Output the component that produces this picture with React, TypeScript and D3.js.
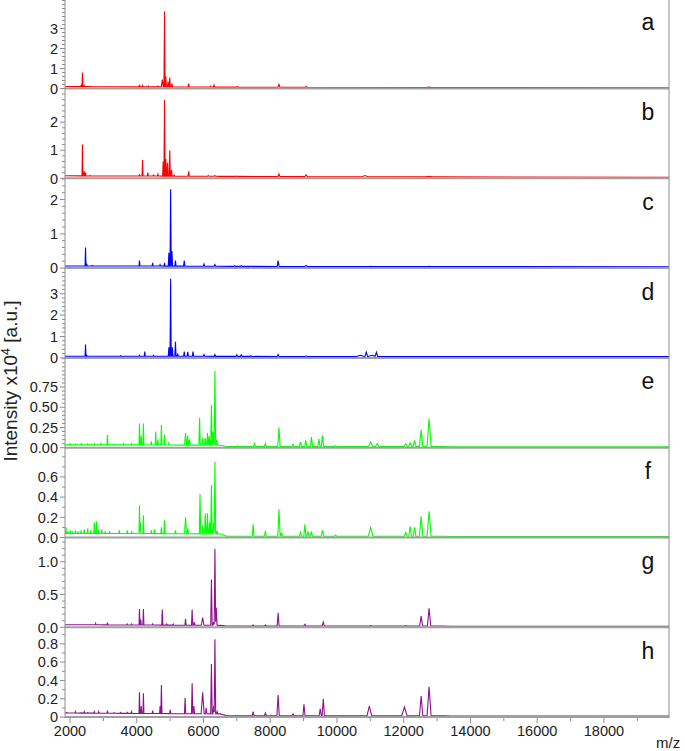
import React from 'react';
import * as d3 from 'd3';

// ---- data (m/z, intensity x10^4 [a.u.], optional half width) ----
type Peak = [number, number, number?];
type Pt = [number, number];

const xMajorTicks = [2000, 4000, 6000, 8000, 10000, 12000, 14000, 16000, 18000];
const xMinorTicks = [3000, 5000, 7000, 9000, 11000, 13000, 15000, 17000, 19000];

const baseA: Pt[] = [[1850, 0.1], [3000, 0.09], [4500, 0.08], [6500, 0.07], [9000, 0.06], [13000, 0.05], [19950, 0.04]];
const peaksA: Peak[] = [
  [2334, 0.15], [2373, 0.8], [2426, 0.15], [2597, 0.1], [4082, 0.2], [4174, 0.15], [4345, 0.12],
  [4503, 0.1], [4634, 0.12], [4766, 0.45, 30], [4832, 3.85], [4871, 0.6], [4937, 0.35], [4989, 0.55],
  [5055, 0.25], [5555, 0.25], [6212, 0.12], [6317, 0.18], [7027, 0.1], [8262, 0.2], [9077, 0.09, 40],
  [12760, 0.07, 60],
];

const baseB: Pt[] = [[1850, 0.09], [3000, 0.08], [4500, 0.08], [6500, 0.07], [9000, 0.06], [13000, 0.05], [19950, 0.04]];
const peaksB: Peak[] = [
  [2373, 1.2], [2426, 0.25], [2465, 0.2], [2597, 0.1], [4082, 0.12], [4174, 0.65], [4332, 0.2],
  [4503, 0.12], [4634, 0.15], [4792, 0.6], [4832, 2.8], [4871, 0.7], [4923, 0.55], [4989, 1.0],
  [5042, 0.3], [5121, 0.12], [5555, 0.25], [6146, 0.1], [6343, 0.1], [7000, 0.08], [8262, 0.15],
  [9077, 0.12, 40], [10839, 0.1, 90], [12760, 0.07, 90],
];

const baseC: Pt[] = [[1850, 0.06], [4500, 0.06], [7000, 0.05], [12000, 0.045], [19950, 0.04]];
const peaksC: Peak[] = [
  [2465, 0.6], [2505, 0.1], [2662, 0.08], [4082, 0.22], [4476, 0.15], [4700, 0.1], [4832, 0.15],
  [4963, 0.45], [5015, 2.3], [5055, 0.5], [5160, 0.22], [5423, 0.22], [6014, 0.12], [6343, 0.1],
  [6935, 0.07], [7132, 0.07], [7421, 0.06], [8236, 0.22], [9077, 0.08, 40], [11010, 0.05, 40],
  [12760, 0.05, 40],
];

const baseD: Pt[] = [[1850, 0.08], [4500, 0.08], [7000, 0.07], [12000, 0.06], [19950, 0.06]];
const peaksD: Peak[] = [
  [2465, 0.62], [2505, 0.12], [3517, 0.1], [4082, 0.12], [4240, 0.3], [4503, 0.12], [4963, 0.5],
  [5015, 3.7], [5068, 0.5], [5160, 0.75], [5226, 0.2], [5423, 0.3], [5528, 0.28], [5686, 0.3],
  [6014, 0.15], [6343, 0.15], [7000, 0.15], [7132, 0.15], [7421, 0.1], [8236, 0.16], [9077, 0.09, 40],
  [10700, 0.12, 120], [10878, 0.27, 40], [11181, 0.26, 40], [11050, 0.12, 120],
];

const baseE: Pt[] = [[1850, 0.035], [4000, 0.035], [6500, 0.03], [6700, 0.015], [13200, 0.015], [13400, 0.012], [19950, 0.012]];
const peaksE: Peak[] = [
  [2005, 0.05], [2163, 0.045], [2334, 0.05], [2528, 0.045], [2728, 0.05], [2925, 0.06], [3123, 0.16],
  [3320, 0.045], [3609, 0.05], [3846, 0.05], [4082, 0.3], [4135, 0.15], [4200, 0.3], [4437, 0.08],
  [4568, 0.2], [4634, 0.1], [4739, 0.28], [4832, 0.16], [4963, 0.06], [5462, 0.18, 30], [5528, 0.15],
  [5581, 0.1], [5883, 0.37], [5975, 0.12], [6054, 0.12], [6120, 0.18], [6172, 0.14], [6238, 0.53],
  [6291, 0.2], [6343, 0.95], [6396, 0.1], [7027, 0.025], [7526, 0.05], [7855, 0.05], [8262, 0.25, 35],
  [8683, 0.045], [8906, 0.07], [9064, 0.09], [9235, 0.13, 35], [9459, 0.11], [9564, 0.15, 35],
  [9958, 0.025], [11010, 0.07, 60], [11207, 0.05, 50], [12061, 0.05], [12193, 0.06], [12325, 0.09],
  [12523, 0.22, 50], [12760, 0.36, 60],
];

const baseF: Pt[] = [[1850, 0.04], [4000, 0.04], [6500, 0.035], [6700, 0.012], [13200, 0.012], [13400, 0.01], [19950, 0.01]];
const peaksF: Peak[] = [
  [1880, 0.1], [1939, 0.06], [2005, 0.07], [2071, 0.06], [2163, 0.07], [2242, 0.06], [2334, 0.07],
  [2426, 0.08], [2531, 0.09], [2623, 0.07], [2728, 0.15], [2794, 0.16], [2860, 0.08], [2952, 0.08],
  [3057, 0.06], [3188, 0.06], [3477, 0.07], [3714, 0.07], [3846, 0.06], [4082, 0.32], [4108, 0.15],
  [4200, 0.22], [4437, 0.07], [4529, 0.08], [4739, 0.1], [4832, 0.17], [5160, 0.07], [5462, 0.2, 30],
  [5528, 0.09], [5896, 0.43], [5975, 0.12], [6054, 0.24], [6120, 0.24], [6185, 0.15], [6238, 0.52],
  [6304, 0.15], [6343, 0.75], [6409, 0.06], [7487, 0.13], [7855, 0.065], [8262, 0.28, 35], [8341, 0.05],
  [8906, 0.05], [9038, 0.13], [9130, 0.06], [9235, 0.06], [9564, 0.07, 40], [9958, 0.025],
  [11010, 0.1, 70], [12061, 0.05], [12193, 0.11, 40], [12325, 0.1, 40], [12523, 0.21, 50], [12760, 0.26, 60],
];

const baseG: Pt[] = [[1850, 0.04], [4000, 0.035], [6500, 0.03], [6700, 0.02], [13200, 0.02], [13400, 0.015], [19950, 0.015]];
const peaksG: Peak[] = [
  [2768, 0.06], [3123, 0.07], [3714, 0.05], [3846, 0.05], [4082, 0.28], [4122, 0.12], [4200, 0.28],
  [4476, 0.05], [4766, 0.27], [4897, 0.05], [5095, 0.05], [5462, 0.13], [5660, 0.27], [5725, 0.08],
  [5975, 0.15, 40], [6238, 0.73], [6304, 0.08], [6343, 1.2], [6383, 0.3], [7487, 0.035], [7855, 0.035],
  [8236, 0.22], [9038, 0.045], [9590, 0.08], [11010, 0.025], [12061, 0.025], [12523, 0.17, 45],
  [12760, 0.29, 50],
];

const baseH: Pt[] = [[1850, 0.045], [4000, 0.04], [6500, 0.035], [6700, 0.015], [13200, 0.015], [13400, 0.012], [19950, 0.012]];
const peaksH: Peak[] = [
  [1900, 0.05], [2005, 0.04], [2163, 0.06], [2334, 0.05], [2426, 0.06], [2531, 0.05], [2728, 0.06],
  [2860, 0.06], [3123, 0.07], [3320, 0.05], [3517, 0.05], [3714, 0.05], [3846, 0.06], [4082, 0.27],
  [4135, 0.12], [4200, 0.26], [4476, 0.07], [4700, 0.12], [4739, 0.35], [5002, 0.08], [5449, 0.21],
  [5660, 0.37], [5712, 0.12], [5975, 0.27, 45], [6080, 0.1], [6238, 0.58], [6304, 0.12], [6343, 0.85],
  [6409, 0.06], [7487, 0.06], [7855, 0.045], [8236, 0.24, 35], [8683, 0.035], [9011, 0.14],
  [9498, 0.09], [9590, 0.2, 35], [10970, 0.12, 70], [12022, 0.11, 80], [12523, 0.23, 50],
  [12760, 0.33, 60],
];

const yTicksA = [0, 1, 2, 3];
const yTicksB = [0, 1, 2];
const yTicksC = [0, 1, 2];
const yTicksD = [0, 1, 2, 3];
const yTicksE = [0, 0.25, 0.5, 0.75];
const yTicksF = [0, 0.2, 0.4, 0.6];
const yTicksG = [0, 0.5, 1.0];
const yTicksH = [0, 0.2, 0.4, 0.6, 0.8];

// ---- layout ----
const W = 685;
const H = 751;
const left = 65;
const right = 669;
const firstTop = -1.3;
const panelH = 89.8;
const font = '"Liberation Sans", Arial, sans-serif';
const gray = '#8c8c8c';

const panels = [
  { id: 'a', base: baseA, peaks: peaksA, color: '#ff0000', yMax: 4.49, ticks: yTicksA, minor: 0.2, fmt: d3.format('d') },
  { id: 'b', base: baseB, peaks: peaksB, color: '#ff0000', yMax: 3.2, ticks: yTicksB, minor: 0.2, fmt: d3.format('d') },
  { id: 'c', base: baseC, peaks: peaksC, color: '#0000ff', yMax: 2.62, ticks: yTicksC, minor: 0.2, fmt: d3.format('d') },
  { id: 'd', base: baseD, peaks: peaksD, color: '#0000ff', yMax: 4.2, ticks: yTicksD, minor: 0.2, fmt: d3.format('d') },
  { id: 'e', base: baseE, peaks: peaksE, color: '#00ff00', yMax: 1.11, ticks: yTicksE, minor: 0.05, fmt: d3.format('.2f') },
  { id: 'f', base: baseF, peaks: peaksF, color: '#00ff00', yMax: 0.89, ticks: yTicksF, minor: 0.1, fmt: d3.format('.1f') },
  { id: 'g', base: baseG, peaks: peaksG, color: '#8f128f', yMax: 1.37, ticks: yTicksG, minor: 0.1, fmt: d3.format('.1f') },
  { id: 'h', base: baseH, peaks: peaksH, color: '#8f128f', yMax: 0.98, ticks: yTicksH, minor: 0.1, fmt: (v: number) => (v === 0 ? '0' : d3.format('.1f')(v)) },
];

const x = d3.scaleLinear().domain([1850, 19950]).range([left, right]);

function halfWidth(p: Peak) {
  return p[2] ?? Math.max(14, p[0] * 0.0035);
}

// spectrum outline: baseline plus a narrow triangle for every listed peak
function spectrum(base: Pt[], peaks: Peak[]): Pt[] {
  const bl = d3
    .scaleLinear()
    .domain(base.map((d) => d[0]))
    .range(base.map((d) => d[1]))
    .clamp(true);
  const xs = new Set<number>(base.map((d) => d[0]));
  peaks.forEach((p) => {
    const w = halfWidth(p);
    xs.add(p[0] - w);
    xs.add(p[0]);
    xs.add(p[0] + w);
  });
  return Array.from(xs)
    .sort((a, b) => a - b)
    .map((mz) => {
      let v = bl(mz);
      for (const p of peaks) {
        const w = halfWidth(p);
        const dist = Math.abs(mz - p[0]);
        if (dist < w) {
          const b0 = bl(p[0]);
          v = Math.max(v, b0 + (p[1] - b0) * (1 - dist / w));
        }
      }
      return [mz, v] as Pt;
    });
}

function Panel({ p, i }: { p: (typeof panels)[number]; i: number }) {
  const top = firstTop + i * panelH;
  const bottom = top + panelH;
  const y = d3.scaleLinear().domain([0, p.yMax]).range([bottom, top]);
  const line = d3
    .line<Pt>()
    .x((d) => x(d[0]))
    .y((d) => y(d[1]));
  const minor = d3.range(0, p.yMax, p.minor).filter((v) => !p.ticks.some((t) => Math.abs(t - v) < 1e-6));
  return (
    <g>
      {minor.map((v) => (
        <line key={'m' + v} x1={left - 3} x2={left} y1={y(v)} y2={y(v)} stroke={gray} strokeWidth={1} />
      ))}
      {p.ticks.map((v) => (
        <g key={'t' + v}>
          <line x1={left - 5} x2={left} y1={y(v)} y2={y(v)} stroke={gray} strokeWidth={1} />
          <text x={left - 7} y={y(v)} dy="0.36em" textAnchor="end" fontSize={14.5} fill="#222">
            {p.fmt(v)}
          </text>
        </g>
      ))}
      <path d={line(spectrum(p.base, p.peaks)) || ''} fill="none" stroke={p.color} strokeWidth={1.1} />
      <line x1={left} x2={right} y1={bottom} y2={bottom} stroke="#a0a0a0" strokeWidth={2} />
      <text x={648} y={top + 31.5} textAnchor="middle" fontSize={23} fill="#111">
        {p.id}
      </text>
    </g>
  );
}

export default function App() {
  const axisY = firstTop + panels.length * panelH;
  return (
    <svg width={W} height={H} style={{ position: 'absolute', left: 0, top: 0, background: '#fff' }} fontFamily={font}>
      <rect width={W} height={H} fill="#fff" />
      {panels.map((p, i) => (
        <Panel key={p.id} p={p} i={i} />
      ))}
      <line x1={left} x2={left} y1={0} y2={axisY + 1} stroke={gray} strokeWidth={1} />
      <line x1={right} x2={right} y1={0} y2={axisY + 1} stroke={gray} strokeWidth={1} />
      {xMinorTicks.map((v) => (
        <line key={'xm' + v} x1={x(v)} x2={x(v)} y1={axisY + 1} y2={axisY + 4} stroke={gray} />
      ))}
      {xMajorTicks.map((v) => (
        <g key={'xt' + v}>
          <line x1={x(v)} x2={x(v)} y1={axisY + 1} y2={axisY + 6} stroke={gray} />
          <text x={x(v)} y={axisY + 19} textAnchor="middle" fontSize={14.5} fill="#222">
            {v}
          </text>
        </g>
      ))}
      <text x={656} y={748} fontSize={15} fill="#222">
        m/z
      </text>
      <text transform="translate(17,381) rotate(-90)" textAnchor="middle" fontSize={19} fill="#222">
        Intensity x10<tspan dy={-7} fontSize={12.5}>4</tspan>
        <tspan dy={7}> [a.u.]</tspan>
      </text>
    </svg>
  );
}
